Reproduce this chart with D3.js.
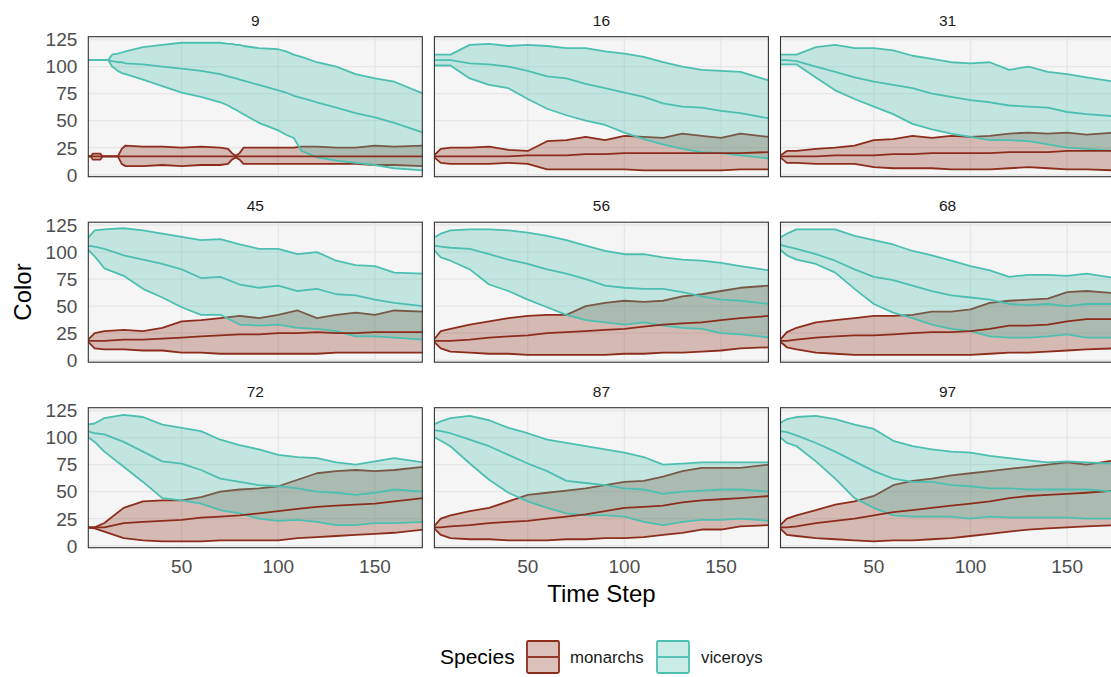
<!DOCTYPE html>
<html>
<head>
<meta charset="utf-8">
<script src="https://cdn.jsdelivr.net/npm/d3@7"></script>
<style>
  body { margin: 0; background: #fff; }
  svg { display: block; font-family: "Liberation Sans", Arial, Helvetica, sans-serif; }
</style>
</head>
<body>
<svg id="chart" width="1111" height="677"></svg>
<script>
// facet labels (simulation runs)
var panelLabels = ["9", "16", "31", "45", "56", "68", "72", "87", "97"];

// time steps the values were read at; run 9 has its own
var steps = [1, 5, 10, 20, 30, 40, 50, 60, 70, 80, 90, 100, 110, 120, 130, 140, 150, 160, 175];
var steps9 = [1, 3, 4, 8, 9, 12, 14, 17, 19, 21, 30, 40, 50, 60, 70, 74, 76, 78, 80, 82, 90, 100, 104, 108, 112, 120, 130, 140, 150, 160, 175];

var xTicks = [50, 100, 150];
var yTicks = [0, 25, 50, 75, 100, 125];
var speciesNames = ["monarchs", "viceroys"];

// one row per panel, in panelLabels order
var viceroyHigh = [
  [106,106,106,106,106,106,111,112,113,114,118,120,122,122,122,121,121,120,120,119,117,116,114,111,109,104,100,93,89,86,75],
  [111,111,111,120,121,119,120,119,117,117,114,112,109,104,100,97,96,95,87],
  [111,111,111,118,120,117,117,115,110,107,104,103,104,97,100,95,93,90,86],
  [112,120,121,122,120,117,114,111,112,107,103,103,98,100,92,88,87,81,80],
  [113,117,120,121,121,120,118,115,111,106,101,98,98,95,93,92,90,87,83],
  [113,117,121,121,121,115,111,107,101,97,92,87,83,77,79,79,78,80,76],
  [112,113,118,121,119,112,109,106,98,93,89,84,82,81,77,75,78,81,77],
  [112,115,118,120,116,109,104,98,95,92,89,86,82,75,76,77,77,77,77],
  [113,117,119,120,117,112,108,97,92,89,87,86,83,81,79,77,78,77,76]
];
var viceroyMid = [
  [106,106,106,106,106,106,105,104,104,103,102,100,98,96,93,91,90,89,88,87,83,78,76,73,71,67,62,57,53,48,39],
  [106,106,106,103,102,100,96,91,89,84,80,76,72,66,63,62,59,57,52],
  [106,106,105,100,95,90,86,83,80,75,72,69,67,64,63,62,58,56,54],
  [106,105,103,97,93,89,84,76,77,70,67,69,64,66,61,60,56,53,50],
  [106,105,104,103,98,93,89,84,80,75,69,67,66,66,63,59,56,55,52],
  [107,105,103,98,92,84,77,74,69,64,60,58,56,52,51,52,50,52,52],
  [106,104,103,96,87,78,76,70,62,59,56,55,53,50,49,47,49,52,50],
  [107,106,104,98,92,84,76,69,60,58,56,53,52,48,50,51,52,52,50],
  [106,105,102,95,87,78,69,62,59,59,56,55,53,53,52,52,52,52,50]
];
var viceroyLow = [
  [106,106,106,106,106,106,100,96,94,93,88,82,76,72,67,64,62,60,58,56,48,41,37,34,22,16,13,11,9,6,4],
  [101,101,101,89,83,80,70,61,55,50,46,39,33,28,24,21,20,18,15],
  [102,102,102,90,78,70,63,56,47,42,38,35,32,32,31,28,25,24,22],
  [103,96,85,78,66,58,49,42,42,33,32,33,30,29,27,22,22,21,19],
  [103,95,92,84,70,64,56,49,42,37,35,33,35,32,30,29,25,24,21],
  [103,97,93,89,81,66,52,44,39,33,29,27,22,21,21,22,24,21,21],
  [101,96,87,73,59,44,42,39,33,30,25,23,24,22,19,19,21,21,22],
  [101,97,92,76,61,49,41,35,30,28,28,27,22,19,22,24,24,25,23],
  [101,95,92,78,62,44,35,28,27,27,27,25,27,26,26,26,26,25,25]
];
var monarchHigh = [
  [17,17,19.5,19.5,17,17,17,17,24,27,26,26,25,26,25,24,20,17.5,20,25,25,25,25,25,26,26,25,25,27,26,27],
  [17,24,25,25,26,23,22,31,32,35,32,36,35,34,38,36,34,38,35],
  [17,22,22,24,25,27,32,33,36,34,36,35,36,38,39,38,39,37,39],
  [18,25,27,28,27,30,36,37,39,41,39,42,46,39,42,44,42,46,45],
  [18,27,29,33,36,39,41,42,42,50,53,55,54,55,59,61,64,67,69],
  [18,26,30,35,37,39,41,41,42,45,45,47,53,55,56,57,63,64,62],
  [17,17,21,35,41,42,42,45,50,52,53,55,61,67,69,70,69,70,73],
  [17,25,28,32,35,41,47,49,51,53,56,59,60,64,69,72,72,72,75],
  [18,25,28,33,38,41,46,56,60,62,65,67,69,71,73,75,77,75,79]
];
var monarchMid = [
  [17,17,17,17,17,17,17,17,17,17,17,17,17,17,17,17,17,17,17,17,17,17,17,17,17,17,17,17,17,17,17],
  [17,17,17,17,17,17,18,18,18,19,19,20,20,20,20,20,20,20,21],
  [17,17,17,17,18,18,18,19,19,20,20,20,20,21,21,21,22,22,22],
  [18,18,18,19,19,20,21,22,23,24,24,25,25,26,25,25,26,26,26],
  [18,18,18,19,21,22,23,25,26,27,28,29,31,33,34,35,37,39,41],
  [18,18,19,21,22,23,23,24,25,26,26,27,29,32,32,33,36,38,38],
  [17,17,17,21,22,23,24,26,27,28,30,32,34,36,37,38,39,41,44],
  [17,17,18,19,21,22,23,25,27,29,32,35,36,37,40,42,43,44,46],
  [17,17,18,21,23,25,28,31,33,35,37,39,41,44,46,47,48,49,51]
];
var monarchLow = [
  [17,17,14,14,17,17,17,17,10,8,8,9,8,9,9,10,14,16,14,10,10,10,10,10,10,10,10,10,9,9,8],
  [17,11,10,10,10,11,10,5,5,5,5,5,4,4,4,4,4,5,5],
  [17,11,11,10,10,10,7,6,6,6,5,5,5,6,7,6,5,5,4],
  [18,11,10,10,9,9,7,7,6,6,6,6,6,6,7,7,7,7,7],
  [18,11,8,7,6,6,5,5,5,5,5,6,6,7,7,8,9,11,12],
  [18,12,10,7,6,5,5,5,5,5,5,5,6,7,7,8,9,10,11],
  [17,16,13,7,5,4,4,4,5,5,5,5,7,8,9,10,11,12,15],
  [17,10,7,6,6,5,5,5,6,6,7,7,8,10,12,15,15,18,19],
  [17,10,9,7,6,5,4,5,5,6,7,9,11,13,15,16,17,18,19]
];

var colors = { monarchs: "#8c2d1c", viceroys: "#4dbfb1" };

var pw = 334, ph = 140;
var left0 = 88.3, colStep = 346.1, top0 = 36.7, rowStep = 185.5;
var lw = 1.8;

var svg = d3.select("#chart");

var x = d3.scaleLinear().domain([1.7, 174.5]).range([0, pw]);
var y = d3.scaleLinear().domain([-1.8, 127.6]).range([ph, 0]);

panelLabels.forEach(function(label, i){
  var col = i % 3, row = Math.floor(i / 3);
  var t = i === 0 ? steps9 : steps;
  var g = svg.append("g")
    .attr("transform", "translate(" + (left0 + col * colStep) + "," + (top0 + row * rowStep) + ")");

  g.append("clipPath").attr("id", "clip" + i)
    .append("rect").attr("width", pw).attr("height", ph);

  g.append("rect").attr("width", pw).attr("height", ph).attr("fill", "#f5f5f5");

  g.selectAll("line.gx").data(xTicks).enter().append("line")
    .attr("x1", function(d){ return x(d); }).attr("x2", function(d){ return x(d); })
    .attr("y1", 0).attr("y2", ph)
    .attr("stroke", "#e6e6e6").attr("stroke-width", 1.3);
  g.selectAll("line.gy").data(yTicks).enter().append("line")
    .attr("y1", function(d){ return y(d); }).attr("y2", function(d){ return y(d); })
    .attr("x1", 0).attr("x2", pw)
    .attr("stroke", "#e6e6e6").attr("stroke-width", 1.3);

  var plot = g.append("g").attr("clip-path", "url(#clip" + i + ")");

  var series = {
    monarchs: { lo: monarchLow[i], mid: monarchMid[i], hi: monarchHigh[i] },
    viceroys: { lo: viceroyLow[i], mid: viceroyMid[i], hi: viceroyHigh[i] }
  };

  // ribbons with outlines, monarchs first
  speciesNames.forEach(function(sp){
    var s = series[sp];
    var pts = t.map(function(step, k){ return { t: step, lo: s.lo[k], hi: s.hi[k] }; });
    plot.append("path").datum(pts)
      .attr("d", d3.area().x(function(d){ return x(d.t); })
        .y0(function(d){ return y(d.lo); }).y1(function(d){ return y(d.hi); }))
      .attr("fill", colors[sp]).attr("fill-opacity", 0.3);
    ["lo", "hi"].forEach(function(k){
      plot.append("path").datum(pts)
        .attr("d", d3.line().x(function(d){ return x(d.t); }).y(function(d){ return y(d[k]); }))
        .attr("fill", "none").attr("stroke", colors[sp]).attr("stroke-width", lw)
        .attr("stroke-linejoin", "round");
    });
  });

  // medians on top
  speciesNames.forEach(function(sp){
    var s = series[sp];
    plot.append("path").datum(t.map(function(step, k){ return { t: step, v: s.mid[k] }; }))
      .attr("d", d3.line().x(function(d){ return x(d.t); }).y(function(d){ return y(d.v); }))
      .attr("fill", "none").attr("stroke", colors[sp]).attr("stroke-width", lw)
      .attr("stroke-linejoin", "round");
  });

  g.append("rect").attr("width", pw).attr("height", ph)
    .attr("fill", "none").attr("stroke", "#333").attr("stroke-width", 1.1);

  g.append("text").attr("x", pw / 2).attr("y", -11)
    .attr("text-anchor", "middle").attr("font-size", 15.5).attr("fill", "#1a1a1a")
    .text(label);

  if (col === 0) {
    g.selectAll("text.yt").data(yTicks).enter().append("text")
      .attr("x", -11).attr("y", function(d){ return y(d); }).attr("dy", "0.36em")
      .attr("text-anchor", "end").attr("font-size", 19).attr("fill", "#4d4d4d")
      .text(function(d){ return d; });
  }
  if (row === 2) {
    g.selectAll("text.xt").data(xTicks).enter().append("text")
      .attr("x", function(d){ return x(d); }).attr("y", ph + 25)
      .attr("text-anchor", "middle").attr("font-size", 19).attr("fill", "#4d4d4d")
      .text(function(d){ return d; });
  }
});

// axis titles
svg.append("text").attr("x", left0 + colStep + pw / 2).attr("y", 602)
  .attr("text-anchor", "middle").attr("font-size", 24).attr("fill", "#000")
  .text("Time Step");
svg.append("text").attr("transform", "translate(31,292) rotate(-90)")
  .attr("text-anchor", "middle").attr("font-size", 24).attr("fill", "#000")
  .text("Color");

// legend
var legend = svg.append("g");
legend.append("text").attr("x", 440).attr("y", 664)
  .attr("font-size", 21).attr("fill", "#000").text("Species");
var keyX = [527, 657], labX = [570, 701];
speciesNames.forEach(function(sp, k){
  legend.append("rect").attr("x", keyX[k]).attr("y", 641).attr("width", 32).attr("height", 32)
    .attr("fill", colors[sp]).attr("fill-opacity", 0.3)
    .attr("stroke", colors[sp]).attr("stroke-width", 1.8).attr("rx", 1.5);
  legend.append("line").attr("x1", keyX[k] + 1).attr("x2", keyX[k] + 31)
    .attr("y1", 657).attr("y2", 657)
    .attr("stroke", colors[sp]).attr("stroke-width", lw);
  legend.append("text").attr("x", labX[k]).attr("y", 663)
    .attr("font-size", 16.8).attr("fill", "#1a1a1a").text(sp);
});
</script>
</body>
</html>
